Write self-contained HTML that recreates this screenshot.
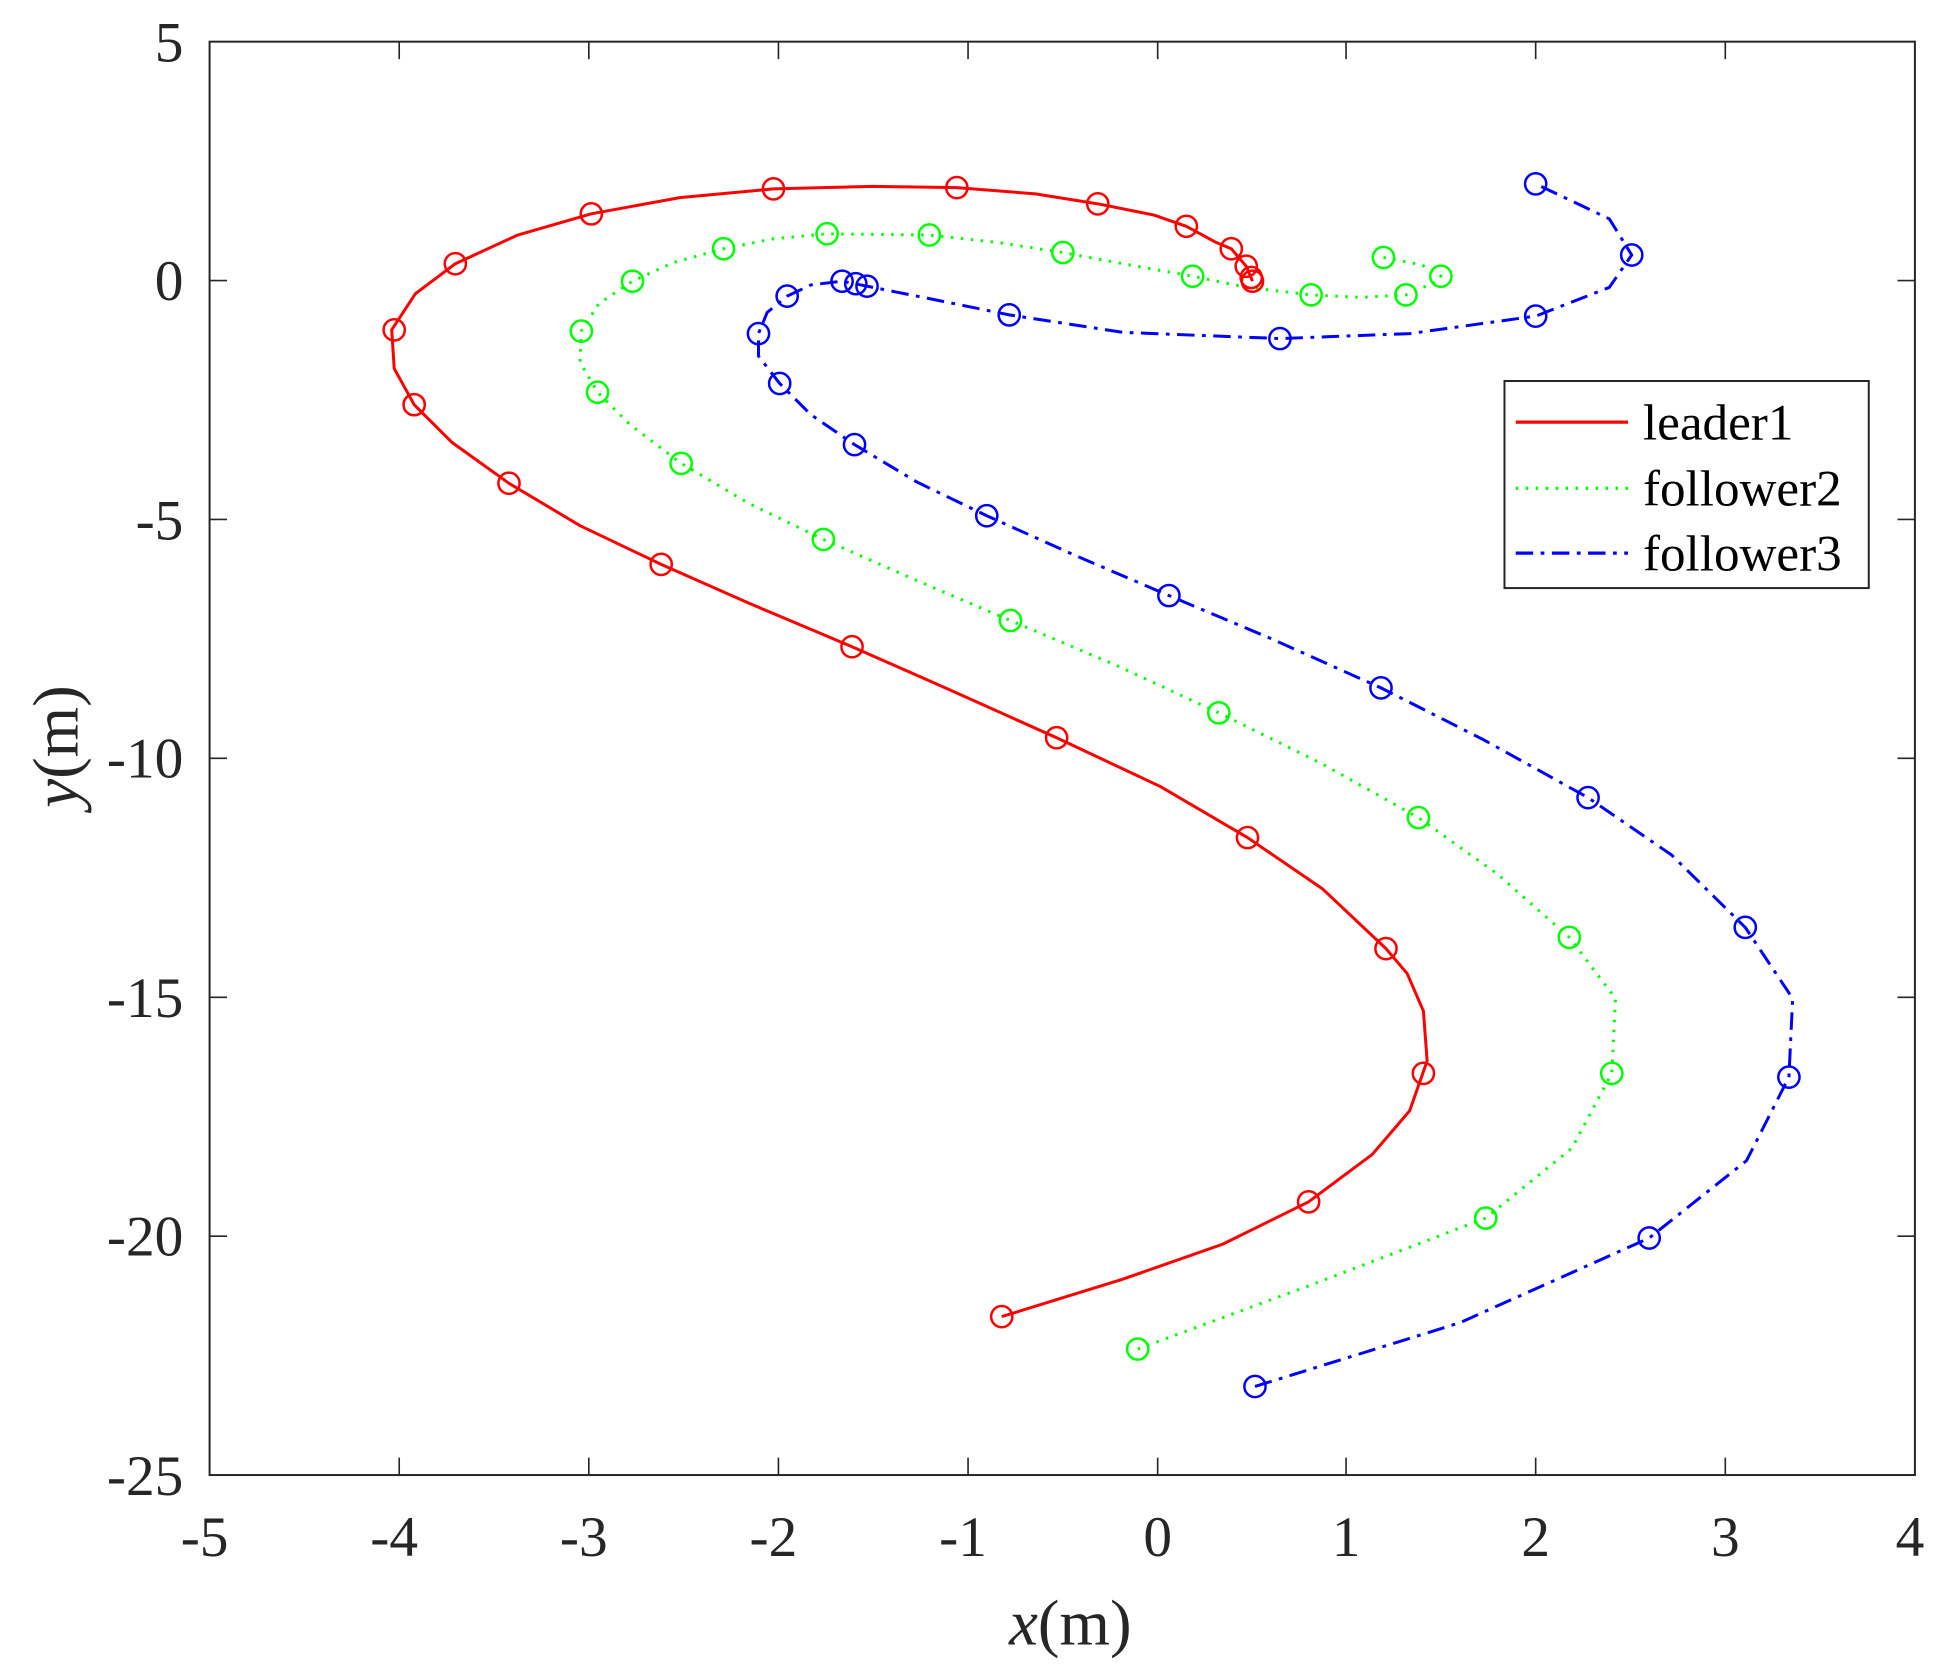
<!DOCTYPE html>
<html><head><meta charset="utf-8"><style>html,body{margin:0;padding:0;background:#fff}svg{display:block}</style></head><body>
<svg width="1956" height="1680" viewBox="0 0 1956 1680" xmlns="http://www.w3.org/2000/svg">
<rect width="1956" height="1680" fill="#fff"/>
<g transform="translate(0,0.5) scale(1.2475)" font-family="Liberation Serif, serif" fill="#262626">
<rect x="168" y="33" width="1367" height="1149" fill="none" stroke="#262626" stroke-width="1.6"/>
<g stroke="#262626" stroke-width="1.3">
<path d="M320,1182v-14M472,1182v-14M624,1182v-14M776,1182v-14M928,1182v-14M1079,1182v-14M1231,1182v-14M1383,1182v-14
M320,33v14M472,33v14M624,33v14M776,33v14M928,33v14M1079,33v14M1231,33v14M1383,33v14
M168,224.5h14M168,416h14M168,607.5h14M168,799h14M168,990.5h14
M1535,224.5h-14M1535,416h-14M1535,607.5h-14M1535,799h-14M1535,990.5h-14"/>
</g>
<g font-size="46" text-anchor="end">
<text x="147" y="49">5</text>
<text x="147" y="240">0</text>
<text x="147" y="432">-5</text>
<text x="147" y="623">-10</text>
<text x="147" y="815">-15</text>
<text x="147" y="1006">-20</text>
<text x="147" y="1198">-25</text>
</g>
<g font-size="46" text-anchor="middle">
<text x="164" y="1247">-5</text>
<text x="316" y="1247">-4</text>
<text x="468" y="1247">-3</text>
<text x="620" y="1247">-2</text>
<text x="772" y="1247">-1</text>
<text x="928" y="1247">0</text>
<text x="1079" y="1247">1</text>
<text x="1231" y="1247">2</text>
<text x="1383" y="1247">3</text>
<text x="1531" y="1247">4</text>
</g>
<text x="858" y="1318" font-size="52" text-anchor="middle"><tspan font-style="italic">x</tspan>(m)</text>
<text transform="translate(62,598) rotate(-90)" font-size="52" text-anchor="middle"><tspan font-style="italic">y</tspan>(m)</text>

<g stroke-linejoin="round" stroke-linecap="butt">
<path fill="none" stroke="#ff0000" stroke-width="2.4" d="M803,1055 L900,1025 L980,997 L1049,963 L1100,925 L1130,890 L1144,850 L1141,810 L1128,780 L1111,760 L1060,712 L1000,671 L930,630 L847,591 L760,552 L683,518 L600,483 L530,452 L465,421 L408,387 L362,354 L332,324 L316,295 L314,264 L333,235 L365,211 L415,188 L474,171 L545,158 L620,151 L700,149 L767,150 L830,155 L880,163 L925,172 L951,181 L975,194 L987,199 L999,213 L1004,225"/>
<path fill="none" stroke="#00ff00" stroke-width="2.4" stroke-dasharray="2,6" d="M912,1081 L1050,1030 L1191,976 L1260,920 L1292,860 L1295,800 L1258,751 L1200,700 L1137,655 L1060,612 L977,571 L895,533 L810,497 L735,465 L660,432 L600,403 L546,371 L505,340 L479,314 L465,290 L466,265 L480,243 L507,225 L540,210 L580,199 L620,191 L663,187 L745,188 L800,194 L852,202 L900,211 L956,221 L1000,230 L1051,236 L1090,238 L1127,236 L1150,226 L1155,221 L1140,212 L1109,206"/>
<path fill="none" stroke="#0000ff" stroke-width="2.4" stroke-dasharray="14,6,3,6" d="M1006,1111 L1170,1060 L1322,992 L1400,930 L1434,863 L1437,800 L1399,743 L1340,685 L1273,639 L1190,593 L1107,551 L1020,512 L937,477 L860,444 L791,413 L735,386 L685,356 L650,332 L625,307 L608,285 L608,267 L615,250 L631,237 L650,228 L675,225 L695,229 L750,240 L809,252 L900,266 L1026,271 L1130,267 L1231,253 L1290,230 L1308,204 L1290,175 L1231,147"/>
</g>
<g fill="none" stroke="#ff0000" stroke-width="2">
<circle cx="803" cy="1055" r="8.5"/><circle cx="1049" cy="963" r="8.5"/><circle cx="1141" cy="860" r="8.5"/><circle cx="1111" cy="760" r="8.5"/><circle cx="1000" cy="671" r="8.5"/><circle cx="847" cy="591" r="8.5"/><circle cx="683" cy="518" r="8.5"/><circle cx="530" cy="452" r="8.5"/><circle cx="408" cy="387" r="8.5"/><circle cx="332" cy="324" r="8.5"/><circle cx="316" cy="264" r="8.5"/><circle cx="365" cy="211" r="8.5"/><circle cx="474" cy="171" r="8.5"/><circle cx="620" cy="151" r="8.5"/><circle cx="767" cy="150" r="8.5"/><circle cx="880" cy="163" r="8.5"/><circle cx="951" cy="181" r="8.5"/><circle cx="987" cy="199" r="8.5"/><circle cx="999" cy="213" r="8.5"/><circle cx="1003" cy="222" r="8.5"/><circle cx="1004" cy="225" r="8.5"/>
</g>
<g fill="none" stroke="#00ff00" stroke-width="2">
<circle cx="912" cy="1081" r="8.5"/><circle cx="1191" cy="976" r="8.5"/><circle cx="1292" cy="860" r="8.5"/><circle cx="1258" cy="751" r="8.5"/><circle cx="1137" cy="655" r="8.5"/><circle cx="977" cy="571" r="8.5"/><circle cx="810" cy="497" r="8.5"/><circle cx="660" cy="432" r="8.5"/><circle cx="546" cy="371" r="8.5"/><circle cx="479" cy="314" r="8.5"/><circle cx="466" cy="265" r="8.5"/><circle cx="507" cy="225" r="8.5"/><circle cx="580" cy="199" r="8.5"/><circle cx="663" cy="187" r="8.5"/><circle cx="745" cy="188" r="8.5"/><circle cx="852" cy="202" r="8.5"/><circle cx="956" cy="221" r="8.5"/><circle cx="1051" cy="236" r="8.5"/><circle cx="1127" cy="236" r="8.5"/><circle cx="1155" cy="221" r="8.5"/><circle cx="1109" cy="206" r="8.5"/>
</g>
<g fill="none" stroke="#0000ff" stroke-width="2">
<circle cx="1006" cy="1111" r="8.5"/><circle cx="1322" cy="992" r="8.5"/><circle cx="1434" cy="863" r="8.5"/><circle cx="1399" cy="743" r="8.5"/><circle cx="1273" cy="639" r="8.5"/><circle cx="1107" cy="551" r="8.5"/><circle cx="937" cy="477" r="8.5"/><circle cx="791" cy="413" r="8.5"/><circle cx="685" cy="356" r="8.5"/><circle cx="625" cy="307" r="8.5"/><circle cx="608" cy="267" r="8.5"/><circle cx="631" cy="237" r="8.5"/><circle cx="675" cy="225" r="8.5"/><circle cx="686" cy="227" r="8.5"/><circle cx="695" cy="229" r="8.5"/><circle cx="809" cy="252" r="8.5"/><circle cx="1026" cy="271" r="8.5"/><circle cx="1231" cy="253" r="8.5"/><circle cx="1308" cy="204" r="8.5"/><circle cx="1231" cy="147" r="8.5"/>
</g>

<rect x="1206" y="305" width="292" height="166" fill="#fff" stroke="#262626" stroke-width="1.6"/>
<line x1="1215" y1="338" x2="1305" y2="338" stroke="#ff0000" stroke-width="2.6"/>
<line x1="1215" y1="391" x2="1305" y2="391" stroke="#00ff00" stroke-width="2.6" stroke-dasharray="2,6"/>
<line x1="1215" y1="443" x2="1305" y2="443" stroke="#0000ff" stroke-width="2.6" stroke-dasharray="14,6,3,6"/>
<g font-size="41" fill="#000">
<text x="1317" y="352">leader1</text>
<text x="1317" y="405">follower2</text>
<text x="1317" y="457">follower3</text>
</g>
</g>
</svg>
</body></html>
